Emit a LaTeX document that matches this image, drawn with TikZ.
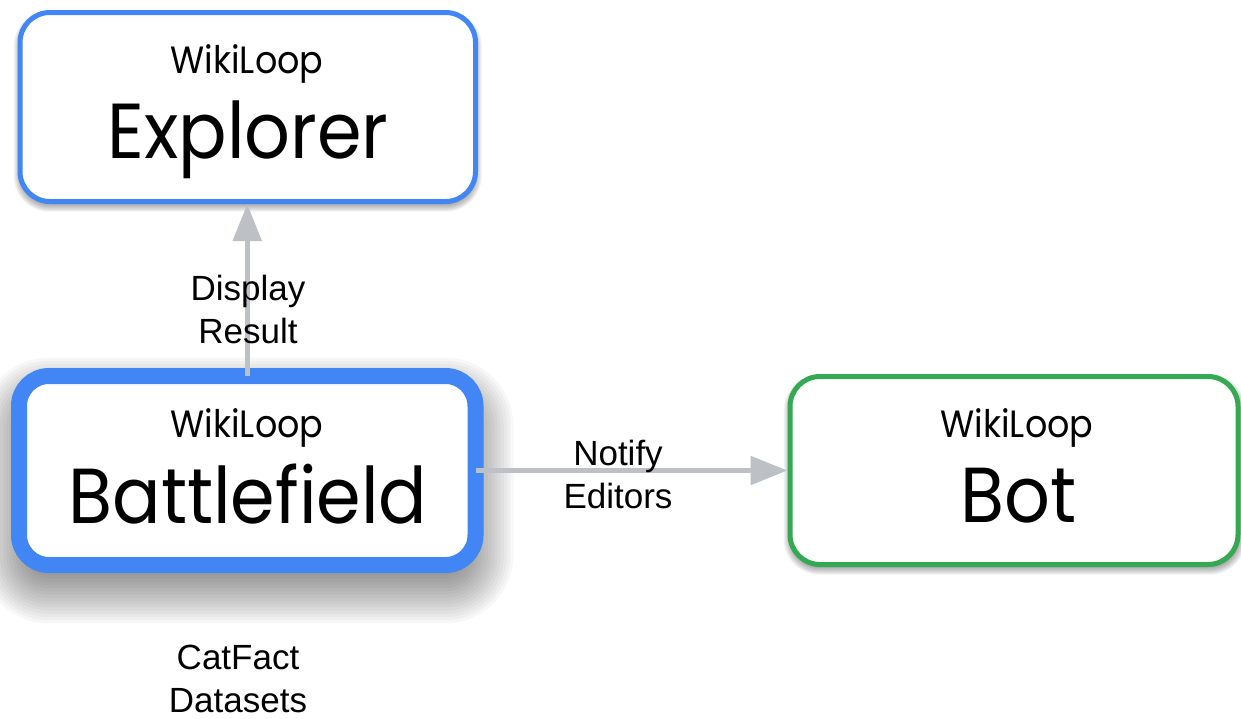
\documentclass[tikz,border=0pt]{standalone}
\usepackage{fontspec}
\setmainfont{Liberation Sans}
\newfontfamily\titlefont[FakeStretch=0.92]{Poppins}
\usetikzlibrary{arrows.meta}
\definecolor{gblue}{HTML}{4285F4}
\definecolor{ggreen}{HTML}{34A853}
\definecolor{ggray}{HTML}{BDC1C6}
\tikzset{
  box/.style={rounded corners=30pt, fill=white, inner sep=0pt},
  kicker/.style={anchor=base, font=\titlefont\fontsize{38}{38}\selectfont},
  bigname/.style={anchor=base, font=\titlefont\fontsize{78}{78}\selectfont},
  lbl/.style={anchor=base, align=center, font=\fontsize{35}{43}\selectfont},
  conn/.style={draw=ggray, line width=5.5pt, -{Triangle[width=28pt,length=37pt]}},
}
\begin{document}
\begin{tikzpicture}[x=1pt,y=-1pt]
\useasboundingbox (0,0) rectangle (1241,718);
% soft shadows
\foreach \k in {0,...,17}{
  \pgfmathsetmacro\e{-24+\k*3.2}
  \pgfmathsetmacro\rr{max(2,38+\e)}
  \fill[black,fill opacity=0.032,rounded corners=\rr pt] ({11-(\e)},{388-(\e)}) rectangle ({483+(\e)},{593+(\e)});
}
\foreach \k in {0,...,7}{
  \pgfmathsetmacro\e{-4+\k*1.1}
  \pgfmathsetmacro\rr{max(2,32+\e)}
  \fill[black,fill opacity=0.05,rounded corners=\rr pt] ({17.5-(\e)},{14-(\e)}) rectangle ({478+(\e)},{208+(\e)});
  \fill[black,fill opacity=0.05,rounded corners=\rr pt] ({787.5-(\e)},{378-(\e)}) rectangle ({1242+(\e)},{571+(\e)});
}
% boxes
\node[box, draw=gblue, line width=5pt, minimum width=455.5pt, minimum height=189pt] (explorer) at (247.75,107) {};
\node[box, draw=gblue, line width=16pt, outer sep=0pt, minimum width=456.5pt, minimum height=189pt] (battlefield) at (247.25,470.5) {};
\node[box, draw=ggreen, line width=5pt, minimum width=448pt, minimum height=188pt] (bot) at (1014,470.5) {};
% connectors
\draw[conn] (battlefield.north) -- (battlefield.north |- explorer.south);
\draw[conn] (battlefield.east) -- (bot.west |- battlefield.east);
% titles
\node[kicker] (explorerkicker) at (247,73) {WikiLoop};
\node[bigname] (explorername) at (248,158) {Explorer};
\node[kicker] (battlefieldkicker) at (247,437) {WikiLoop};
\node[bigname] (battlefieldname) at (248,523) {Battlefield};
\node[kicker] (botkicker) at (1017,437) {WikiLoop};
\node[bigname] (botname) at (1018.5,522) {Bot};
% labels (anchor base = baseline of the last line)
\node[lbl] (displaylbl) at (248,343) {Display\\Result};
\node[lbl] (notifylbl) at (618,508) {Notify\\Editors};
\node[lbl] (catfactlbl) at (238,712) {CatFact\\Datasets};
\end{tikzpicture}
\end{document}
